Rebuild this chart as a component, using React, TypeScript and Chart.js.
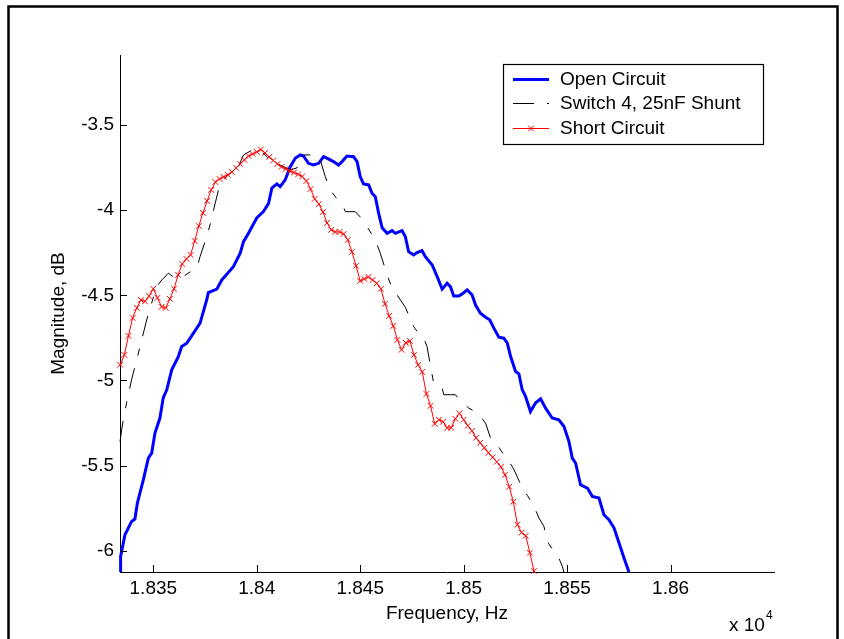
import React, { useEffect, useRef } from 'react';
import { Chart, registerables } from 'chart.js';

Chart.register(...registerables);

const FONT = "'Liberation Sans', Arial, Helvetica, sans-serif";

const seriesLabels = ['Open Circuit', 'Switch 4, 25nF Shunt', 'Short Circuit'];
const xAxisTitle = 'Frequency, Hz';
const yAxisTitle = 'Magnitude, dB';
const xExponentBase = 'x 10';
const xExponent = '4';

const xTickValues = [18350, 18400, 18450, 18500, 18550, 18600];
const xTickLabels = ['1.835', '1.84', '1.845', '1.85', '1.855', '1.86'];
const yTickValues = [-6, -5.5, -5, -4.5, -4, -3.5];
const yTickLabels = ['-6', '-5.5', '-5', '-4.5', '-4', '-3.5'];

const openFreq = [
  18333.9, 18334.2, 18336.3, 18339.5, 18341.1, 18342.3, 18345.2, 18347.6, 18349.2, 18350.8,
  18353.2, 18354.8, 18356.5, 18358.9, 18362.1, 18363.7, 18366.2, 18369.4, 18372.6, 18375.8,
  18376.6, 18380.7, 18383.1, 18388.7, 18392.0, 18393.6, 18396.0, 18400.0, 18403.2, 18405.7,
  18407.3, 18409.7, 18411.3, 18413.7, 18416.2, 18418.6, 18421.0, 18422.6, 18425.0, 18427.4,
  18429.9, 18432.3, 18433.9, 18437.1, 18439.5, 18441.2, 18443.6, 18446.8, 18448.5, 18450.0,
  18451.6, 18454.1, 18455.7, 18457.3, 18458.9, 18460.6, 18463.0, 18465.4, 18467.0, 18470.2,
  18471.8, 18473.4, 18475.8, 18477.5, 18479.9, 18481.5, 18484.8, 18487.2, 18489.6, 18492.0,
  18493.6, 18495.2, 18497.6, 18499.3, 18501.7, 18504.1, 18505.7, 18508.1, 18510.6, 18512.6,
  18514.6, 18517.0, 18519.4, 18521.1, 18522.7, 18525.1, 18526.7, 18528.3, 18529.9, 18532.3,
  18534.8, 18537.2, 18539.6, 18542.8, 18546.0, 18548.5, 18550.9, 18552.5, 18554.1, 18556.5,
  18559.8, 18562.2, 18565.4, 18567.8, 18570.2, 18572.7, 18575.1, 18577.5, 18579.9,
];
const openMag = [
  -6.125, -6.033, -5.906, -5.828, -5.814, -5.720, -5.583, -5.456, -5.427, -5.309,
  -5.221, -5.102, -5.055, -4.938, -4.860, -4.801, -4.781, -4.722, -4.664, -4.527,
  -4.484, -4.464, -4.410, -4.332, -4.253, -4.185, -4.136, -4.046, -4.009, -3.960,
  -3.871, -3.846, -3.862, -3.823, -3.745, -3.695, -3.676, -3.682, -3.725, -3.735,
  -3.725, -3.686, -3.695, -3.715, -3.735, -3.715, -3.682, -3.686, -3.715, -3.803,
  -3.846, -3.852, -3.901, -3.921, -4.018, -4.104, -4.136, -4.120, -4.136, -4.120,
  -4.155, -4.244, -4.263, -4.249, -4.238, -4.273, -4.322, -4.390, -4.464, -4.429,
  -4.449, -4.504, -4.504, -4.492, -4.468, -4.498, -4.556, -4.605, -4.629, -4.644,
  -4.693, -4.746, -4.752, -4.781, -4.860, -4.948, -4.961, -5.055, -5.094, -5.183,
  -5.131, -5.108, -5.163, -5.221, -5.231, -5.271, -5.359, -5.456, -5.485, -5.613,
  -5.632, -5.681, -5.691, -5.789, -5.818, -5.867, -5.955, -6.043, -6.125,
];

const shuntFreq = [
  18333.9, 18334.7, 18335.5, 18337.1, 18339.5, 18343.6, 18346.8, 18349.2, 18351.6, 18354.1,
  18357.3, 18360.5, 18364.5, 18367.8, 18371.0, 18372.6, 18375.8, 18377.4, 18379.9, 18382.3,
  18386.3, 18390.4, 18393.6, 18397.8, 18401.6, 18406.5, 18411.3, 18416.2, 18419.4, 18422.6,
  18425.8, 18429.1, 18430.7, 18433.1, 18435.5, 18438.4, 18441.2, 18442.8, 18447.6, 18450.5,
  18453.3, 18457.3, 18459.7, 18463.0, 18465.4, 18467.8, 18471.8, 18475.8, 18478.1, 18480.7,
  18482.3, 18483.6, 18485.5, 18487.3, 18489.6, 18490.4, 18493.6, 18496.0, 18498.4, 18502.5,
  18505.7, 18508.1, 18510.6, 18513.0, 18515.9, 18519.4, 18523.5, 18525.1, 18528.3, 18530.9,
  18534.0, 18536.4, 18538.8, 18540.4, 18543.0, 18545.3, 18547.7, 18548.5,
];
const shuntMag = [
  -5.360, -5.290, -5.231, -5.131, -4.996, -4.801, -4.644, -4.546, -4.449, -4.410,
  -4.370, -4.400, -4.390, -4.363, -4.341, -4.273, -4.155, -4.087, -3.960, -3.842,
  -3.793, -3.764, -3.676, -3.647, -3.647, -3.705, -3.735, -3.764, -3.752, -3.676,
  -3.676, -3.682, -3.705, -3.803, -3.881, -3.928, -3.960, -4.009, -4.009, -4.046,
  -4.097, -4.175, -4.253, -4.380, -4.458, -4.498, -4.570, -4.684, -4.721, -4.752,
  -4.801, -4.889, -5.016, -5.038, -5.045, -5.084, -5.084, -5.084, -5.120, -5.163,
  -5.184, -5.212, -5.251, -5.339, -5.372, -5.437, -5.505, -5.544, -5.632, -5.677,
  -5.740, -5.808, -5.857, -5.945, -5.994, -6.023, -6.092, -6.129,
];

const shortFreq = [
  18334, 18336, 18338, 18340, 18342, 18344, 18346, 18348, 18350, 18352,
  18354, 18356, 18358, 18360, 18362, 18364, 18366, 18368, 18370, 18372,
  18374, 18376, 18378, 18380, 18382, 18384, 18386, 18388, 18390, 18392,
  18394, 18396, 18398, 18400, 18402, 18404, 18406, 18408, 18410, 18412,
  18414, 18416, 18418, 18420, 18422, 18424, 18426, 18428, 18430, 18432,
  18434, 18436, 18438, 18440, 18442, 18444, 18446, 18448, 18450, 18452,
  18454, 18456, 18458, 18460, 18462, 18464, 18466, 18468, 18470, 18472,
  18474, 18476, 18478, 18480, 18482, 18484, 18486, 18488, 18490, 18492,
  18494, 18496, 18498, 18500, 18502, 18504, 18506, 18508, 18510, 18512,
  18514, 18516, 18518, 18520, 18522, 18524, 18526, 18528, 18530, 18532,
  18534,
];
const shortMag = [
  -4.908, -4.850, -4.738, -4.633, -4.574, -4.527, -4.536, -4.504, -4.462, -4.515,
  -4.568, -4.574, -4.521, -4.462, -4.380, -4.316, -4.286, -4.263, -4.181, -4.093,
  -4.016, -3.946, -3.881, -3.835, -3.817, -3.805, -3.793, -3.776, -3.752, -3.729,
  -3.705, -3.682, -3.670, -3.658, -3.644, -3.664, -3.688, -3.708, -3.729, -3.746,
  -3.758, -3.770, -3.779, -3.790, -3.802, -3.829, -3.876, -3.934, -3.964, -4.011,
  -4.075, -4.116, -4.128, -4.128, -4.140, -4.175, -4.245, -4.327, -4.416, -4.404,
  -4.392, -4.410, -4.430, -4.462, -4.550, -4.621, -4.680, -4.762, -4.820, -4.779,
  -4.768, -4.850, -4.908, -4.950, -5.079, -5.149, -5.255, -5.231, -5.243, -5.278,
  -5.278, -5.225, -5.193, -5.231, -5.266, -5.296, -5.337, -5.366, -5.396, -5.425,
  -5.451, -5.478, -5.507, -5.554, -5.624, -5.712, -5.847, -5.894, -5.912, -6.012,
  -6.120,
];

const X_MIN = 18333.9;
const X_MAX = 18650;
const Y_MIN = -6.125;
const Y_MAX = -3.089;

const toPoints = (xs: number[], ys: number[]) => xs.map((x, i) => ({ x, y: ys[i] }));

export default function App() {
  const ref = useRef<HTMLCanvasElement>(null);

  useEffect(() => {
    const canvas = ref.current;
    if (!canvas) return;

    const framePlugin = {
      id: 'frame',
      beforeDraw(chart: any) {
        const ctx = chart.ctx;
        ctx.save();
        ctx.fillStyle = '#ffffff';
        ctx.fillRect(0, 0, chart.width, chart.height);
        ctx.strokeStyle = '#000000';
        ctx.lineWidth = 2.5;
        ctx.beginPath();
        ctx.moveTo(8.5, chart.height + 5);
        ctx.lineTo(8.5, 6.5);
        ctx.lineTo(837.5, 6.5);
        ctx.lineTo(837.5, chart.height + 5);
        ctx.stroke();
        ctx.restore();
      },
    };

    const decorPlugin = {
      id: 'decor',
      afterDraw(chart: any) {
        const ctx = chart.ctx;
        const xs = chart.scales.x;
        const ys = chart.scales.y;
        ctx.save();
        // inward tick marks
        ctx.strokeStyle = '#000000';
        ctx.lineWidth = 1;
        ctx.beginPath();
        for (const v of xTickValues) {
          const px = Math.round(xs.getPixelForValue(v)) + 0.5;
          ctx.moveTo(px, ys.bottom);
          ctx.lineTo(px, ys.bottom - 7);
        }
        for (const v of yTickValues) {
          const py = Math.round(ys.getPixelForValue(v)) + 0.5;
          ctx.moveTo(xs.left, py);
          ctx.lineTo(xs.left + 7, py);
        }
        ctx.stroke();

        // exponent label
        ctx.fillStyle = '#000000';
        ctx.textBaseline = 'alphabetic';
        ctx.textAlign = 'left';
        ctx.font = `19px ${FONT}`;
        const baseX = 729;
        ctx.fillText(xExponentBase, baseX, 630.5);
        const w = ctx.measureText(xExponentBase).width;
        ctx.font = `12px ${FONT}`;
        ctx.fillText(xExponent, baseX + w + 1, 618.5);

        // legend box
        const bx = 503.5, by = 64.5, bw = 260, bh = 80;
        ctx.fillStyle = '#ffffff';
        ctx.fillRect(bx, by, bw, bh);
        ctx.strokeStyle = '#000000';
        ctx.lineWidth = 1.2;
        ctx.strokeRect(bx, by, bw, bh);
        const rows = [79.5, 103.5, 128.5];
        chart.data.datasets.forEach((ds: any, i: number) => {
          const yy = rows[i];
          ctx.save();
          ctx.strokeStyle = ds.borderColor;
          ctx.lineWidth = ds.borderWidth;
          ctx.setLineDash(ds.borderDash || []);
          ctx.beginPath();
          ctx.moveTo(513, yy);
          ctx.lineTo(549, yy);
          ctx.stroke();
          ctx.setLineDash([]);
          if (ds.pointRadius > 0) {
            const r = ds.pointRadius * 0.707;
            ctx.lineWidth = ds.pointBorderWidth || 1;
            ctx.strokeStyle = ds.pointBorderColor;
            ctx.beginPath();
            ctx.moveTo(531 - r, yy - r);
            ctx.lineTo(531 + r, yy + r);
            ctx.moveTo(531 - r, yy + r);
            ctx.lineTo(531 + r, yy - r);
            ctx.stroke();
          }
          ctx.restore();
          ctx.fillStyle = '#000000';
          ctx.font = `19px ${FONT}`;
          ctx.textBaseline = 'middle';
          ctx.textAlign = 'left';
          ctx.fillText(ds.label, 560, yy + 0.5);
        });
        ctx.restore();
      },
    };

    const tickFont = { family: FONT, size: 19 };

    const chart = new Chart(canvas, {
      type: 'line',
      data: {
        datasets: [
          {
            label: seriesLabels[0],
            data: toPoints(openFreq, openMag),
            borderColor: '#0000ff',
            backgroundColor: '#0000ff',
            borderWidth: 3,
            pointRadius: 0,
            tension: 0,
            order: 3,
            clip: { left: 4, top: 0, right: 0, bottom: 0 },
          },
          {
            label: seriesLabels[1],
            data: toPoints(shuntFreq, shuntMag),
            borderColor: '#000000',
            backgroundColor: '#000000',
            borderWidth: 1,
            borderDash: [21, 13, 7, 13],
            pointRadius: 0,
            tension: 0,
            order: 2,
            clip: { left: 4, top: 0, right: 0, bottom: 0 },
          },
          {
            label: seriesLabels[2],
            data: toPoints(shortFreq, shortMag),
            borderColor: '#ff0000',
            backgroundColor: 'rgba(0,0,0,0)',
            borderWidth: 1,
            pointStyle: 'crossRot',
            pointRadius: 4,
            pointBorderWidth: 1,
            pointBorderColor: '#ff0000',
            pointBackgroundColor: 'rgba(0,0,0,0)',
            tension: 0,
            order: 1,
            clip: { left: 6, top: 0, right: 0, bottom: 2 },
          },
        ] as any,
      },
      options: {
        responsive: false,
        animation: false,
        devicePixelRatio: 1,
        events: [],
        layout: { padding: { left: 0, top: 55, right: 70, bottom: 0 } },
        plugins: {
          legend: { display: false },
          tooltip: { enabled: false },
        },
        scales: {
          x: {
            type: 'linear',
            min: X_MIN,
            max: X_MAX,
            afterBuildTicks: (s: any) => {
              s.ticks = xTickValues.map((v) => ({ value: v }));
            },
            afterFit: (s: any) => {
              s.height = 67;
            },
            grid: { display: false, drawTicks: false },
            border: { display: true, color: '#000000', width: 1 },
            ticks: {
              autoSkip: false,
              maxRotation: 0,
              color: '#000000',
              font: tickFont,
              padding: 5,
              callback: (v: any) => xTickLabels[xTickValues.indexOf(Number(v))],
            },
            title: {
              display: true,
              text: xAxisTitle,
              color: '#000000',
              font: tickFont,
              padding: { top: 0, bottom: 14 },
            },
          },
          y: {
            type: 'linear',
            min: Y_MIN,
            max: Y_MAX,
            afterBuildTicks: (s: any) => {
              s.ticks = yTickValues.map((v) => ({ value: v }));
            },
            afterFit: (s: any) => {
              s.width = 120;
            },
            grid: { display: false, drawTicks: false },
            border: { display: true, color: '#000000', width: 1 },
            ticks: {
              autoSkip: false,
              color: '#000000',
              font: tickFont,
              padding: 6,
              callback: (v: any) => yTickLabels[yTickValues.indexOf(Number(v))],
            },
            title: {
              display: true,
              text: yAxisTitle,
              color: '#000000',
              font: tickFont,
              padding: { top: 47, bottom: 0 },
            },
          },
        },
      } as any,
      plugins: [framePlugin, decorPlugin],
    });

    return () => {
      chart.destroy();
    };
  }, []);

  return (
    <div style={{ position: 'absolute', left: 0, top: 0, width: 844, height: 639, background: '#ffffff' }}>
      <canvas ref={ref} width={844} height={639} style={{ display: 'block', width: 844, height: 639 }} />
    </div>
  );
}
